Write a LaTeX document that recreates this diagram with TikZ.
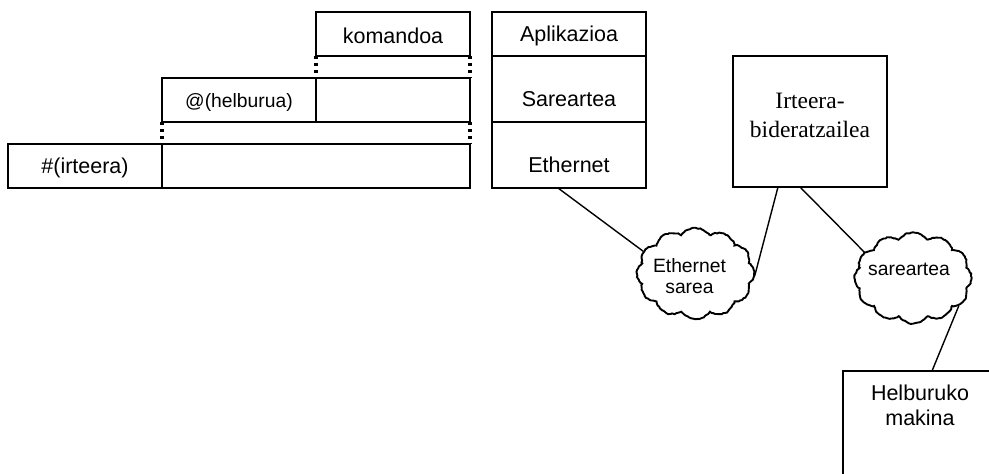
\documentclass[tikz,border=0pt]{standalone}
\usepackage{fontspec}
\setmainfont{Liberation Sans}
\newfontfamily\serifx{Liberation Serif}
\usetikzlibrary{shapes.symbols,decorations.pathmorphing}
\begin{document}
\begin{tikzpicture}[x=1pt,y=-1pt,
  cell/.style={draw, line width=1.5pt, rectangle, inner sep=0pt, outer sep=0pt},
  lbl/.style={font=\fontsize{21.5}{24}\selectfont, anchor=base, inner sep=0pt},
  slbl/.style={font=\fontsize{19.3}{21.5}\selectfont, anchor=base, inner sep=0pt},
  serlbl/.style={font=\serifx\fontsize{23.5}{29}\selectfont, anchor=base, inner sep=0pt},
  dotline/.style={line width=3.2pt, dash pattern=on 3pt off 4pt},
  link/.style={line width=1.4pt},
  netcloud/.style={cloud, draw, line width=1.9pt, cloud puffs=12, cloud puff arc=110,
    minimum width=117pt, minimum height=91pt, inner sep=0pt, cloud ignores aspect,
    decorate, decoration={random steps, segment length=2pt, amplitude=0.6pt}}
]
\clip (0,0) rectangle (989,474);
% left stack
\node[cell, minimum width=154pt, minimum height=44pt] (kom) at (393,34) {};
\node[cell, minimum width=154pt, minimum height=44pt] (hel) at (239,100) {};
\node[cell, minimum width=154pt, minimum height=44pt] (helr) at (393,100) {};
\node[cell, minimum width=154pt, minimum height=44pt] (irt) at (85,166) {};
\node[cell, minimum width=308pt, minimum height=44pt] (irtr) at (316,166) {};
\draw[dotline] (kom.south west) -- (helr.north west);
\draw[dotline] (kom.south east) -- (helr.north east);
\draw[dotline] (hel.south west) -- (irtr.north west);
\draw[dotline] (helr.south east) -- (irtr.north east);
\node[lbl] (tkom) at (393,43.5) {komandoa};
\node[slbl] (thel) at (239,107.5) {@(helburua)};
\node[lbl] (tirt) at (85,173) {\#(irteera)};
% protocol stack
\node[cell, minimum width=154pt, minimum height=44pt] (apl) at (569,34) {};
\node[cell, minimum width=154pt, minimum height=66pt] (sar) at (569,89) {};
\node[cell, minimum width=154pt, minimum height=66pt] (eth) at (569,155) {};
\node[lbl] (tapl) at (569,41.7) {Aplikazioa};
\node[lbl] (tsar) at (569,106.7) {Sareartea};
\node[lbl] (teth) at (569,172.7) {Ethernet};
% router
\node[cell, minimum width=154pt, minimum height=131pt] (rtr) at (810,121.5) {};
\node[serlbl] (trtr1) at (810,108) {Irteera-};
\node[serlbl] (trtr2) at (810,137) {bideratzailea};
% destination
\node[cell, minimum width=154pt, minimum height=131pt] (helb) at (920,436.5) {};
\node[lbl] (thelb1) at (920,400.7) {Helburuko};
\node[lbl] (thelb2) at (920,425) {makina};
% clouds
\node[netcloud] (ecl) at (695.5,273.5) {};
\node[netcloud] (scl) at (913,278) {};
\node[slbl] (tecl1) at (689.5,272) {Ethernet};
\node[slbl] (tecl2) at (689.5,293) {sarea};
\node[slbl] (tscl) at (909,275) {sareartea};
% connectors
\draw[link] ([xshift=-11pt]eth.south) -- (ecl.157);
\draw[link] ([xshift=-32pt]rtr.south) -- (ecl.-2);
\draw[link] ([xshift=-10pt]rtr.south) -- (scl.152);
\draw[link] (scl.-31) -- ([xshift=12pt]helb.north);
\end{tikzpicture}
\end{document}
